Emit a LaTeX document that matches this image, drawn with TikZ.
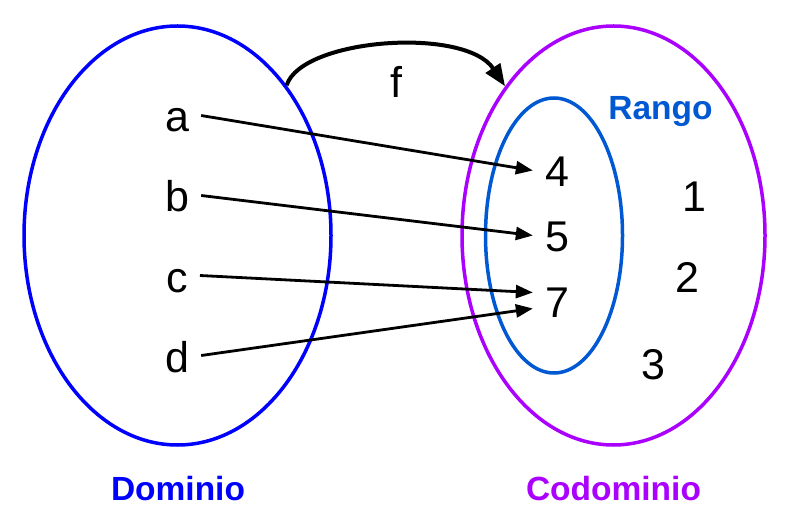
\documentclass[tikz,border=0pt]{standalone}
\usepackage{fontspec}
\setmainfont{Liberation Sans}
\usetikzlibrary{shapes.geometric,arrows.meta}
\definecolor{domblue}{RGB}{0,0,255}
\definecolor{codpurple}{RGB}{170,0,255}
\definecolor{rangoblue}{RGB}{0,88,210}
\begin{document}
\begin{tikzpicture}[x=1pt,y=-1pt,
  setell/.style={draw,ellipse,inner sep=0pt,line width=3.5pt},
  elem/.style={anchor=base,inner xsep=12pt,inner ysep=0pt,text height=33pt,text depth=0pt,font=\fontsize{43}{50}\selectfont},
  title/.style={anchor=base,inner sep=0pt,font=\fontsize{33.5}{40}\selectfont\bfseries},
  maparrow/.style={line width=2.8pt,-{Triangle[length=17pt,width=13pt]}}]
\useasboundingbox (0,0) rectangle (794,526);
% sets
\node[setell,domblue,minimum width=307pt,minimum height=419pt] (dom) at (177.5,235.5) {};
\node[setell,codpurple,minimum width=303pt,minimum height=419pt] (cod) at (613.5,235.5) {};
\node[setell,rangoblue,minimum width=137pt,minimum height=275pt] (ran) at (554,235.5) {};
% elements
\node[elem] (a) at (177,132) {a};
\node[elem] (b) at (177,212) {b};
\node[elem] (c) at (177,292) {c};
\node[elem] (d) at (177,372) {d};
\node[elem] (n4) at (557,187) {4};
\node[elem] (n5) at (557,252) {5};
\node[elem] (n7) at (557,317) {7};
\node[elem] (n1) at (694,212) {1};
\node[elem] (n2) at (687,292) {2};
\node[elem] (n3) at (653,379) {3};
% labels
\node[elem,inner xsep=0pt] (f) at (396,98) {f};
\node[title,rangoblue] (rango) at (660.5,120) {Rango};
\node[title,domblue] (domlab) at (178,500) {Dominio};
\node[title,codpurple] (codlab) at (613.5,500) {Codominio};
% mapping
\draw[maparrow] (a.east) -- (n4.west);
\draw[maparrow] (b.east) -- (n5.west);
\draw[maparrow] (c.east) -- ([yshift=8pt]n7.west);
\draw[maparrow] (d.east) -- ([yshift=-8pt]n7.west);
\draw[line width=4pt,-{Triangle[length=22pt,width=17pt]}] (dom.54) .. controls +(15,-47) and +(-40,-60) .. (cod.126);
\end{tikzpicture}
\end{document}
